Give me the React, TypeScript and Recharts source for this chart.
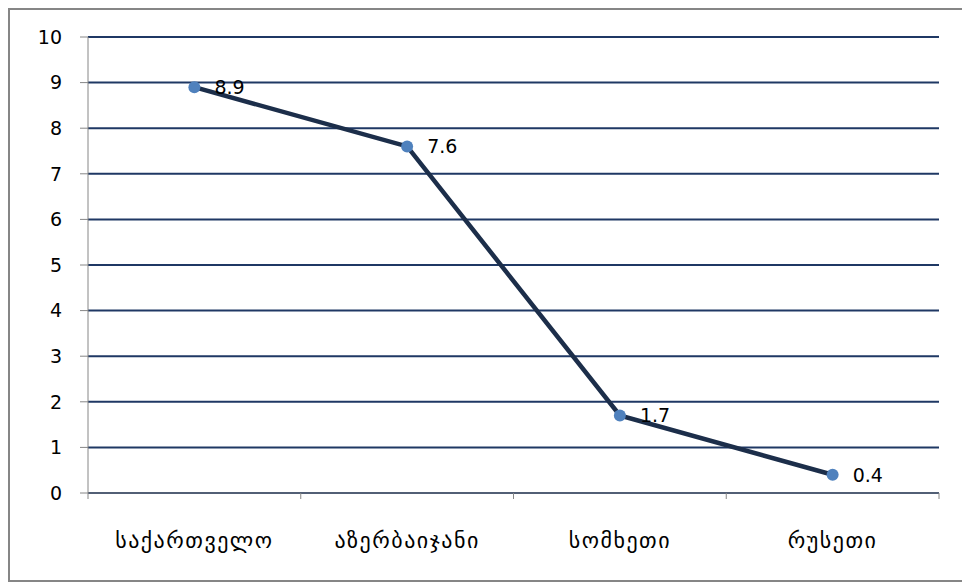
import React from "react";
import {
  LineChart,
  Line,
  XAxis,
  YAxis,
  CartesianGrid,
  LabelList,
} from "recharts";

const countries = ["საქართველო", "აზერბაიჯანი", "სომხეთი", "რუსეთი"];
const values = [8.9, 7.6, 1.7, 0.4];
const yTicks = [0, 1, 2, 3, 4, 5, 6, 7, 8, 9, 10];

const data = countries.map((name, i) => ({ name, value: values[i] }));

const AXIS_GRAY = "#868686";
const GRID_NAVY = "#1F3864";
const FONT = "'DejaVu Sans', sans-serif";

// category tick: label under the band centre, tick marks on band edges
function CountryTick(props: any) {
  const { x, y, payload, index, width, visibleTicksCount } = props;
  const bw = width / visibleTicksCount;
  const left = x - bw / 2;
  return (
    <g>
      <line x1={left} x2={left} y1={y - 8} y2={y - 2} stroke={AXIS_GRAY} />
      {index === visibleTicksCount - 1 && (
        <line
          x1={left + bw}
          x2={left + bw}
          y1={y - 8}
          y2={y - 2}
          stroke={AXIS_GRAY}
        />
      )}
      <text
        x={x}
        y={y + 47}
        textAnchor="middle"
        fontFamily={FONT}
        fontSize={22}
        letterSpacing={1.5}
        fill="#000"
      >
        {payload.value}
      </text>
    </g>
  );
}

export default function App() {
  return (
    <div
      style={{
        width: 954,
        height: 570,
        border: `2px solid ${AXIS_GRAY}`,
        background: "#fff",
      }}
    >
      <LineChart
        width={954}
        height={570}
        data={data}
        margin={{ top: 27, right: 25, left: 0, bottom: 27 }}
      >
        <CartesianGrid
          vertical={false}
          stroke={GRID_NAVY}
          strokeWidth={2}
          strokeDasharray=""
        />
        <XAxis
          dataKey="name"
          scale="band"
          height={60}
          stroke={AXIS_GRAY}
          tickLine={false}
          tick={<CountryTick />}
          interval={0}
        />
        <YAxis
          domain={[0, 10]}
          ticks={yTicks}
          width={78}
          stroke={AXIS_GRAY}
          tickSize={8}
          tickMargin={18}
          interval={0}
          tick={{ fill: "#000", fontSize: 19, fontFamily: FONT }}
        />
        <Line
          type="linear"
          dataKey="value"
          stroke="#1C2E4A"
          strokeWidth={4.5}
          dot={{ r: 6, fill: "#4F81BD", stroke: "none" }}
          activeDot={false}
          isAnimationActive={false}
        >
          <LabelList
            dataKey="value"
            position="right"
            offset={20}
            fill="#000"
            fontSize={19}
            fontFamily={FONT}
          />
        </Line>
      </LineChart>
    </div>
  );
}
